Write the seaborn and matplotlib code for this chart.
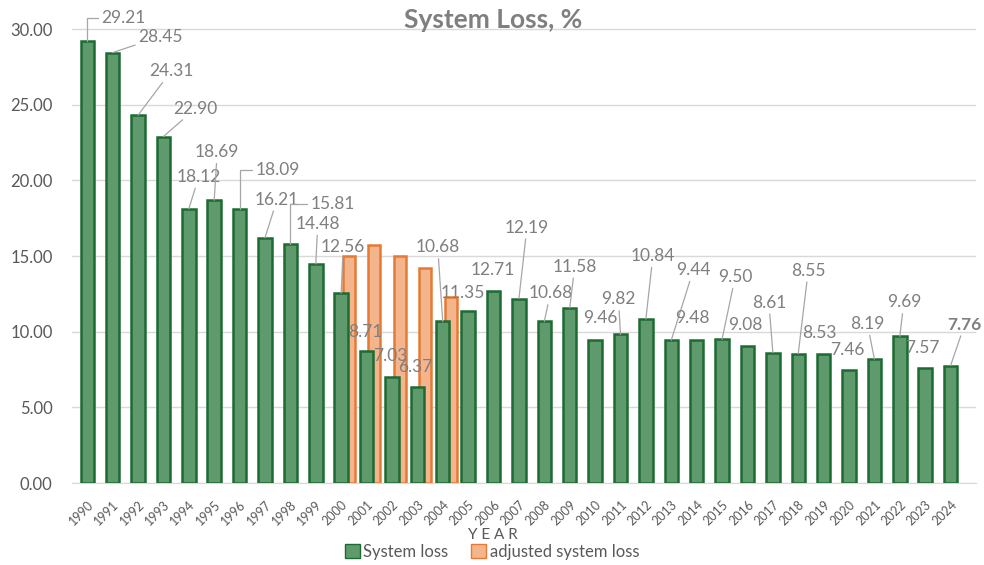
"""
System loss (%) by year, 1990-2024, with the adjusted figures for 2000-2004
"""
import matplotlib
matplotlib.use("Agg")
import matplotlib.pyplot as plt
from matplotlib.patches import Patch
from matplotlib.ticker import FormatStrFormatter
import pandas as pd
import seaborn as sns

# ---------------- Data ----------------
years = [str(y) for y in range(1990, 2025)]
system_loss = [29.21, 28.45, 24.31, 22.90, 18.12, 18.69, 18.09, 16.21, 15.81, 14.48,
               12.56, 8.71, 7.03, 6.37, 10.68, 11.35, 12.71, 12.19, 10.68, 11.58,
               9.46, 9.82, 10.84, 9.44, 9.48, 9.50, 9.08, 8.61, 8.55, 8.53,
               7.46, 8.19, 9.69, 7.57, 7.76]
adj_years = ["2000", "2001", "2002", "2003", "2004"]
adj_loss = [15.0, 15.7, 15.0, 14.2, 12.3]

# label offsets (pixels from bar top) -- the labels were dragged around by hand
label_dx = [36, 48, 33, 32, 10, 3, 38, 12, 42, 2,
            2, -1, -2, -2, -5, -5, -1, 8, 6, 5,
            5, -2, 7, 22, -4, 13, -2, -4, 10, -4,
            -2, -7, 4, -3, 14]
label_dy = [23, 16, 44, 28, 32, 48, 39, 38, 40, 40,
            46, 19, 21, 20, 74, 18, 21, 71, 28, 41,
            22, 35, 63, 70, 22, 62, 21, 50, 83, 21,
            20, 35, 34, 20, 41]
# 0 = no leader line, 1 = straight, 2 = elbow
leader = [2, 1, 1, 1, 1, 1, 2, 1, 2, 1,
          1, 0, 0, 0, 1, 0, 0, 1, 1, 1,
          0, 1, 1, 1, 0, 1, 0, 1, 1, 0,
          0, 1, 1, 0, 1]

GREEN, GREEN_EDGE = "#5E9A6C", "#1D6B33"
ORANGE, ORANGE_EDGE = "#F5B58C", "#E57A35"
GREY = "#7f7f7f"

df = pd.DataFrame({"year": years, "loss": system_loss})
df_adj = pd.DataFrame({"year": adj_years, "loss": adj_loss})

sns.set_style("white")
plt.rcParams["font.family"] = ["Lato", "DejaVu Sans"]

fig = plt.figure(figsize=(9.84, 5.65), dpi=100)
ax = fig.add_axes([72 / 984, 82 / 565, 904 / 984, 469 / 565])

# adjusted bars sit behind and a bit to the right of the green ones
sns.barplot(data=df_adj, x="year", y="loss", order=years, width=0.47,
            color=ORANGE, saturation=1, edgecolor=ORANGE_EDGE, linewidth=1.8, zorder=2, ax=ax)
for p in ax.patches:
    p.set_x(p.get_x() + 0.31)

sns.barplot(data=df, x="year", y="loss", order=years, width=0.53,
            color=GREEN, saturation=1, edgecolor=GREEN_EDGE, linewidth=1.8, zorder=3, ax=ax)

for i, v in enumerate(system_loss):
    arrow = None
    if leader[i]:
        style = "angle,angleA=0,angleB=90,rad=0" if leader[i] == 2 else "arc3"
        arrow = dict(arrowstyle="-", color="#a6a6a6", lw=0.9, shrinkA=0, shrinkB=0,
                     connectionstyle=style)
    ax.annotate(f"{v:.2f}", xy=(i, v), xytext=(label_dx[i], label_dy[i]),
                textcoords="offset pixels", ha="center", va="center",
                fontsize=12.5, color=GREY,
                fontweight="bold" if years[i] == "2024" else "normal",
                arrowprops=arrow, zorder=5)

ax.set_xlim(-0.6, 35.0)
ax.set_ylim(0, 31)
ax.set_yticks(range(0, 31, 5))
ax.yaxis.set_major_formatter(FormatStrFormatter("%.2f"))
ax.yaxis.grid(True, color="#d9d9d9", lw=1)
ax.set_axisbelow(True)
for s in ["top", "right", "left"]:
    ax.spines[s].set_visible(False)
ax.spines["bottom"].set_color("#d9d9d9")

ax.tick_params(axis="y", length=0, pad=14, labelsize=12, labelcolor="#595959")
ax.tick_params(axis="x", length=0, pad=11, labelsize=9, labelcolor="#595959")
plt.setp(ax.get_xticklabels(), rotation=45, ha="right", rotation_mode="anchor")
ax.set_xlabel("")
ax.set_ylabel("")

fig.text(493 / 984, 1 - 20 / 565, "System Loss, %", ha="center", va="center",
         fontsize=19, fontweight="bold", color="#7f7f7f")
fig.text(493 / 984, 1 - 535 / 565, "Y E A R", ha="center", va="center",
         fontsize=11, color="#595959")

handles = [Patch(facecolor=GREEN, edgecolor=GREEN_EDGE, label="System loss"),
           Patch(facecolor=ORANGE, edgecolor=ORANGE_EDGE, label="adjusted system loss")]
fig.legend(handles=handles, loc="center", bbox_to_anchor=(0.5, 1 - 552 / 565), ncol=2,
           frameon=False, fontsize=12, handlelength=0.9, handleheight=0.9,
           handletextpad=0.2, columnspacing=1.4, labelcolor="#595959")

fig.savefig("out.png", dpi=100)
plt.close(fig)
